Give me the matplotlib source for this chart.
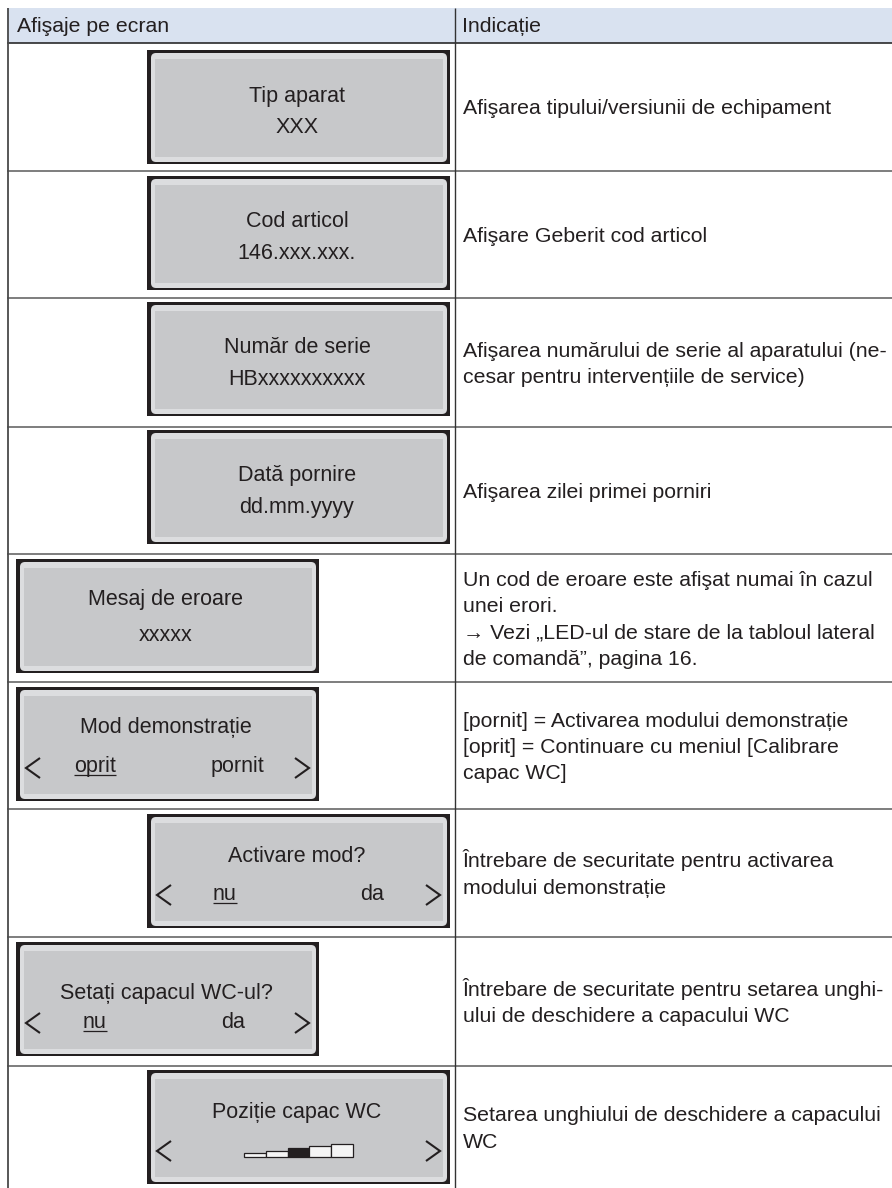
import matplotlib
matplotlib.use("Agg")
import matplotlib.pyplot as plt
from matplotlib.patches import Rectangle, FancyBboxPatch

# ---------------- content ----------------
header_labels = ["Afişaje pe ecran", "Indicație"]

display_titles = ["Tip aparat", "Cod articol", "Număr de serie", "Dată pornire",
                  "Mesaj de eroare", "Mod demonstrație", "Activare mod?",
                  "Setați capacul WC-ul?", "Poziție capac WC"]
display_values = ["XXX", "146.xxx.xxx.", "HBxxxxxxxxxx", "dd.mm.yyyy", "xxxxx",
                  None, None, None, None]
display_options = [None, None, None, None, None,
                   ("oprit", "pornit"), ("nu", "da"), ("nu", "da"), None]

descriptions = [
    ["Afişarea tipului/versiunii de echipament"],
    ["Afişare Geberit cod articol"],
    ["Afişarea numărului de serie al aparatului (ne-",
     "cesar pentru intervențiile de service)"],
    ["Afişarea zilei primei porniri"],
    ["Un cod de eroare este afişat numai în cazul",
     "unei erori.",
     "→ Vezi „LED-ul de stare de la tabloul lateral",
     "de comandă”, pagina 16."],
    ["[pornit] = Activarea modului demonstrație",
     "[oprit] = Continuare cu meniul [Calibrare",
     "capac WC]"],
    ["Întrebare de securitate pentru activarea",
     "modului demonstrație"],
    ["Întrebare de securitate pentru setarea unghi-",
     "ului de deschidere a capacului WC"],
    ["Setarea unghiului de deschidere a capacului",
     "WC"],
]

lid_levels = [4.0, 6.5, 9.0, 11.3, 13.3]
lid_selected = 2

# ---------------- layout (pixels) ----------------
W, H = 892, 1188
row_edges = [43, 171, 298, 427, 554, 682, 809, 937, 1066, 1188]
box_side = ["R", "R", "R", "R", "L", "L", "R", "L", "R"]
box_left = {"R": 147, "L": 16}
box_top_off = [7, 5, 4, 3, 5, 5, 5, 5, 4]
box_w, box_h = 303, 114
title_off = [52, 51, 51, 51, 46, 46, 48, 57, 48]
value_off = [83, 83, 83, 83, 82, 85, 86, 86, 86]
opt_x = {5: (79, 221), 6: (78, 225), 7: (79, 217)}
arrow_dx = (17, 286)
arrow_off = 81

ink = "#231f20"
fam = ["Liberation Sans", "DejaVu Sans"]
fs_desc = 15.3
fs_disp = 15.5

fig = plt.figure(figsize=(W / 100, H / 100), dpi=100)
ax = fig.add_axes([0, 0, 1, 1])
ax.set_xlim(0, W)
ax.set_ylim(H, 0)
ax.axis("off")

# header
ax.add_patch(Rectangle((7, 8), W - 7, 35, fc="#d9e2f0", ec="none", zorder=1))
ax.text(17, 32, header_labels[0], fontsize=fs_desc, family=fam, color=ink, va="baseline")
ax.text(462, 32, header_labels[1], fontsize=fs_desc, family=fam, color=ink, va="baseline")

# grid lines
ax.plot([7, W], [43, 43], color="#2a2a2a", lw=1.2, solid_capstyle="butt", zorder=3)
for y in row_edges[1:-1]:
    ax.plot([7, W], [y, y], color="#5a5a5a", lw=1.1, solid_capstyle="butt", zorder=3)
ax.plot([7.5, 7.5], [8, H], color="#4a4a4a", lw=1.3, solid_capstyle="butt", zorder=3)
ax.plot([455, 455], [8, H], color="#333333", lw=1.0, solid_capstyle="butt", zorder=3)


def chevron(cx, cy, direction):
    w, h = 7, 10
    if direction < 0:
        xs = [cx + w, cx - w, cx + w]
    else:
        xs = [cx - w, cx + w, cx - w]
    ax.plot(xs, [cy - h, cy, cy + h], color=ink, lw=1.5, zorder=6,
            solid_joinstyle="miter", solid_capstyle="butt")


underline_texts = []

for i in range(9):
    x0 = box_left[box_side[i]]
    y0 = row_edges[i] + box_top_off[i]
    ax.add_patch(Rectangle((x0, y0), box_w, box_h, fc=ink, ec="none", zorder=4))
    ax.add_patch(FancyBboxPatch((x0 + 4, y0 + 3), box_w - 7, box_h - 5,
                                boxstyle="round,pad=0,rounding_size=5",
                                fc="#dcdddf", ec="none", zorder=4))
    ax.add_patch(Rectangle((x0 + 8, y0 + 9), box_w - 15, box_h - 16,
                           fc="#c7c8ca", ec="none", zorder=4))
    cx = x0 + 150
    ax.text(cx, y0 + title_off[i], display_titles[i], fontsize=fs_disp, family=fam,
            color=ink, ha="center", va="baseline", zorder=6)
    if display_values[i] is not None:
        ax.text(cx, y0 + value_off[i], display_values[i], fontsize=fs_disp, family=fam,
                color=ink, ha="center", va="baseline", zorder=6)
    if display_options[i] is not None:
        a, b = display_options[i]
        ta = ax.text(x0 + opt_x[i][0], y0 + value_off[i], a, fontsize=fs_disp, family=fam,
                     color=ink, ha="center", va="baseline", zorder=6)
        ax.text(x0 + opt_x[i][1], y0 + value_off[i], b, fontsize=fs_disp, family=fam,
                color=ink, ha="center", va="baseline", zorder=6)
        underline_texts.append((ta, y0 + value_off[i] + 2.5))
    if display_options[i] is not None or i == 8:
        chevron(x0 + arrow_dx[0], y0 + arrow_off, -1)
        chevron(x0 + arrow_dx[1], y0 + arrow_off, +1)

# descriptions
for i, lines in enumerate(descriptions):
    rc = (row_edges[i] + row_edges[i + 1]) / 2
    n = len(lines)
    for k, line in enumerate(lines):
        yb = rc + 7.5 + (k - (n - 1) / 2) * 26.4
        ax.text(463, yb, line, fontsize=fs_desc, family=fam, color=ink, va="baseline")

# underlines under selected option
fig.canvas.draw()
renderer = fig.canvas.get_renderer()
inv = ax.transData.inverted()
for t, yu in underline_texts:
    bb = t.get_window_extent(renderer)
    (xa, _), (xb, _) = inv.transform([(bb.x0, bb.y0), (bb.x1, bb.y0)])
    ax.plot([xa, xb], [yu, yu], color=ink, lw=0.9, zorder=6, solid_capstyle="butt")

# lid position icon (row 9)
bx0, bx1, bbot = 244, 353, 1157
ax2 = fig.add_axes([bx0 / W, 1 - bbot / H, (bx1 - bx0) / W, max(lid_levels) / H])
colors = [ink if j == lid_selected else "#f4f4f4" for j in range(len(lid_levels))]
ax2.bar(range(len(lid_levels)), lid_levels, width=1, align="edge", color=colors,
        edgecolor=ink, linewidth=0.9, clip_on=False)
ax2.set_xlim(0, len(lid_levels))
ax2.set_ylim(0, max(lid_levels))
ax2.axis("off")
ax2.set_zorder(10)

fig.savefig("out.png", dpi=100)
